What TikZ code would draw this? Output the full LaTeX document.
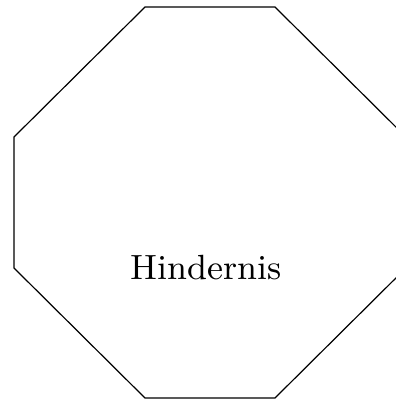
\documentclass[tikz,border=0pt]{standalone}
\usepackage{tikz}
\usetikzlibrary{positioning}

\begin{document}
\begin{tikzpicture}[
    x=0.25pt, y=-0.25pt,
    obstacle/.style={draw, line width=0.3pt},
    label/.style={font=\fontsize{8.75}{10.5}\selectfont}
]
\useasboundingbox (0,0) rectangle (396,400);
\clip (0,0) rectangle (396,400);
\draw[obstacle] (145,7) -- (275,7) -- (406,137) -- (406,268) -- (275,398) -- (145,398) -- (14,268) -- (14,137) -- cycle;
\node[label] (hindernis) at (206,268) {Hindernis};
\end{tikzpicture}
\end{document}
